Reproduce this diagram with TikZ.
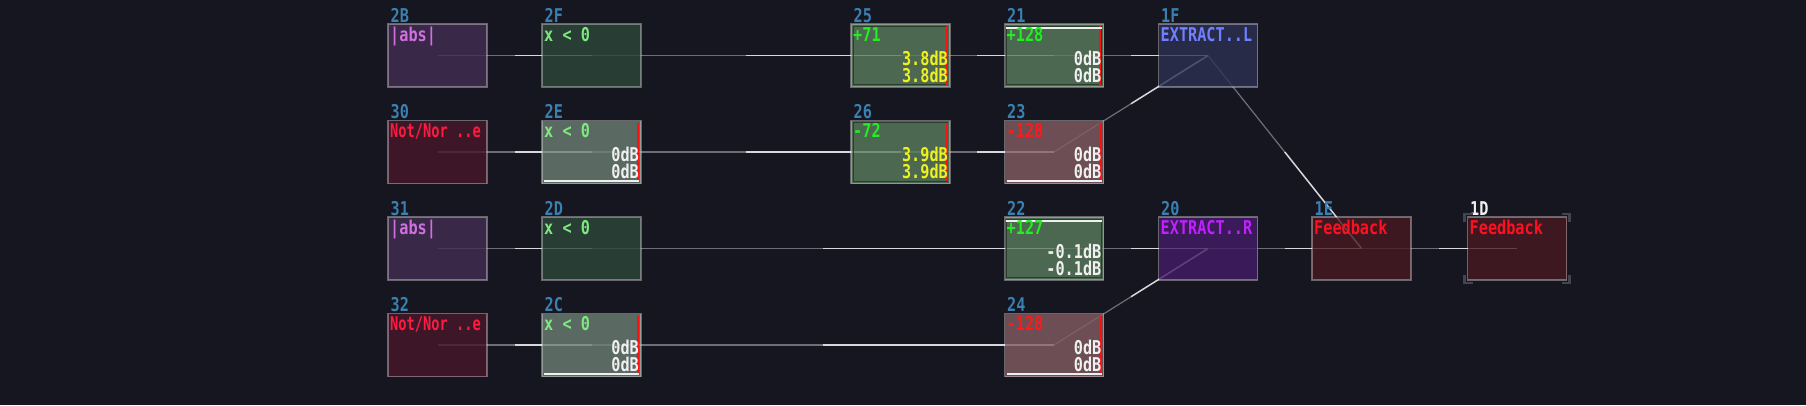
\documentclass[tikz,border=0pt]{standalone}
\usepackage{fontspec}
\newfontfamily\pix[FakeStretch=0.8]{DejaVu Sans Mono Bold}
\newfontfamily\pixn[FakeStretch=0.72]{DejaVu Sans Mono Bold}
\usetikzlibrary{calc}
\pgfdeclarelayer{back}
\pgfdeclarelayer{wires}
\pgfsetlayers{back,wires,main}
\definecolor{bgc}{HTML}{161620}
\definecolor{absf}{HTML}{442D52}
\definecolor{abst}{HTML}{D070E0}
\definecolor{notf}{HTML}{47172B}
\definecolor{nott}{HTML}{FF1A40}
\definecolor{cmpf}{HTML}{2D4739}
\definecolor{cmpf2}{HTML}{6C8074}
\definecolor{cmpt}{HTML}{80E880}
\definecolor{ampf}{HTML}{5B7D5C}
\definecolor{ampr}{HTML}{825C61}
\definecolor{gtxt}{HTML}{22EE22}
\definecolor{rtxt}{HTML}{FF1A1A}
\definecolor{ytxt}{HTML}{F0F020}
\definecolor{wtxt}{HTML}{F0F0F0}
\definecolor{exlf}{HTML}{2D3152}
\definecolor{exlt}{HTML}{7080FF}
\definecolor{exrf}{HTML}{441B66}
\definecolor{exrt}{HTML}{C020FF}
\definecolor{fbf}{HTML}{471920}
\definecolor{fbt}{HTML}{FF1020}
\definecolor{idc}{HTML}{3A80B0}
\definecolor{dimw}{HTML}{6E6E76}
\definecolor{brw}{HTML}{D8D8DC}
\definecolor{barr}{HTML}{FF1010}
\definecolor{brk}{HTML}{44444E}
\definecolor{innc}{HTML}{2A3E2E}
\newcommand\pixfont{\pix\fontsize{19}{20}\selectfont}
\newcommand\pixnfont{\pixn\fontsize{19}{20}\selectfont}
\newcommand\idl[3][idc]{\node[idlab,text=#1] (#2id) at ([shift={(2.5pt,2pt)}]#2.north west) {#3};}
\newcommand\ttl[3]{\node[ttlst,text=#2] (#1tt) at ([shift={(2pt,-17pt)}]#1.north west) {#3};}
\newcommand\vals[3]{\node[valst,text=#2] (#1va) at ([shift={(-2pt,-41pt)}]#1.north east) {#3};
  \node[valst,text=#2] (#1vb) at ([shift={(-2pt,-58pt)}]#1.north east) {#3};}
\newcommand\rbar[1]{\fill[barr] ([shift={(-4.4pt,-2.4pt)}]#1.north east) rectangle ([shift={(-2.4pt,2.4pt)}]#1.south east);}
\newcommand\topw[1]{\draw[wl] ([shift={(1.7pt,-4pt)}]#1.north west) -- ([shift={(-2pt,-4pt)}]#1.north east);}
\newcommand\botw[1]{\draw[wl] ([shift={(2pt,2.3pt)}]#1.south west) -- ([shift={(-2pt,2.3pt)}]#1.south east);}
\newcommand\innerb[1]{\draw[innerst] ([shift={(2.2pt,-2.2pt)}]#1.north west) rectangle ([shift={(-2.2pt,2.2pt)}]#1.south east);}
\newcommand\linkab[2]{\draw[dimline] (#1.center) -- ($(#1.center)!0.5!(#2.center)$);
  \draw[brline] ($(#1.center)!0.5!(#2.center)$) -- (#2.center);}
\begin{document}
\begin{tikzpicture}[x=1pt,y=-1pt,
  mod/.style={draw=white, draw opacity=0.35, line width=1.5pt, minimum width=99pt, minimum height=63pt,
    inner sep=0pt, outer sep=0pt, fill opacity=0.8},
  idlab/.style={anchor=base west, inner sep=0pt, font=\pixfont},
  ttlst/.style={anchor=base west, inner sep=0pt, font=\pixfont},
  valst/.style={anchor=base east, inner sep=0pt, font=\pixfont},
  wl/.style={draw=wtxt, line width=1.5pt},
  innerst/.style={draw=innc, line width=1.2pt},
  dimline/.style={draw=dimw, line width=1.2pt},
  brline/.style={draw=brw, line width=1.5pt},
  brkst/.style={draw=brk, line width=2.5pt}]
\useasboundingbox (0,0) rectangle (1806,405);
\begin{pgfonlayer}{back}
\fill[bgc] (0,0) rectangle (1806,405);
\end{pgfonlayer}
% column 1
\node[mod,fill=absf] (n2B) at (437.5,55.5) {};
\node[mod,fill=notf] (n30) at (437.5,152) {};
\node[mod,fill=absf] (n31) at (437.5,248.5) {};
\node[mod,fill=notf] (n32) at (437.5,345) {};
% column 2
\node[mod,fill=cmpf] (n2F) at (591.5,55.5) {};
\node[mod,fill=cmpf2] (n2E) at (591.5,152) {};
\node[mod,fill=cmpf] (n2D) at (591.5,248.5) {};
\node[mod,fill=cmpf2] (n2C) at (591.5,345) {};
% column 3
\node[mod,fill=ampf] (n25) at (900.5,55.5) {};
\node[mod,fill=ampf] (n26) at (900.5,152) {};
% column 4
\node[mod,fill=ampf] (n21) at (1054,55.5) {};
\node[mod,fill=ampr] (n23) at (1054,152) {};
\node[mod,fill=ampf] (n22) at (1054,248.5) {};
\node[mod,fill=ampr] (n24) at (1054,345) {};
% column 5-7
\node[mod,fill=exlf] (n1F) at (1208,55.5) {};
\node[mod,fill=exrf] (n20) at (1208,248.5) {};
\node[mod,fill=fbf] (n1E) at (1361.5,248.5) {};
\node[mod,fill=fbf] (n1D) at (1517,248.5) {};
% decorations
\innerb{n25}\innerb{n26}\innerb{n21}\innerb{n22}
\rbar{n2E}\rbar{n2C}\rbar{n25}\rbar{n26}\rbar{n21}\rbar{n23}\rbar{n24}
\botw{n2E}\botw{n2C}\botw{n23}\botw{n24}
\topw{n21}\topw{n22}
% ids
\idl{n2B}{2B}\idl{n30}{30}\idl{n31}{31}\idl{n32}{32}
\idl{n2F}{2F}\idl{n2E}{2E}\idl{n2D}{2D}\idl{n2C}{2C}
\idl{n25}{25}\idl{n26}{26}
\idl{n21}{21}\idl{n23}{23}\idl{n22}{22}\idl{n24}{24}
\idl{n1F}{1F}\idl{n20}{20}\idl{n1E}{1E}\idl[wtxt]{n1D}{1D}
% titles
\ttl{n2B}{abst}{|abs|}
\node[ttlst,text=nott,font=\pixnfont] (n30tt) at ([shift={(2pt,-17pt)}]n30.north west) {Not/Nor ..e};
\ttl{n31}{abst}{|abs|}
\node[ttlst,text=nott,font=\pixnfont] (n32tt) at ([shift={(2pt,-17pt)}]n32.north west) {Not/Nor ..e};
\ttl{n2F}{cmpt}{x < 0}\ttl{n2E}{cmpt}{x < 0}\ttl{n2D}{cmpt}{x < 0}\ttl{n2C}{cmpt}{x < 0}
\ttl{n25}{gtxt}{+71}\ttl{n26}{gtxt}{-72}
\ttl{n21}{gtxt}{+128}\ttl{n23}{rtxt}{-128}\ttl{n22}{gtxt}{+127}\ttl{n24}{rtxt}{-128}
\ttl{n1F}{exlt}{EXTRACT..L}\ttl{n20}{exrt}{EXTRACT..R}
\ttl{n1E}{fbt}{Feedback}\ttl{n1D}{fbt}{Feedback}
% values
\vals{n2E}{wtxt}{0dB}\vals{n2C}{wtxt}{0dB}
\vals{n25}{ytxt}{3.8dB}\vals{n26}{ytxt}{3.9dB}
\vals{n21}{wtxt}{0dB}\vals{n23}{wtxt}{0dB}\vals{n22}{wtxt}{-0.1dB}\vals{n24}{wtxt}{0dB}
% selection brackets on 1D
\draw[brkst] ([shift={(-3pt,-5pt)}]n1D.north west) -- ++(0pt,8pt) -- ++(8pt,0pt);
\draw[brkst] ([shift={(3pt,-5pt)}]n1D.north east) -- ++(0pt,8pt) -- ++(-8pt,0pt);
\draw[brkst] ([shift={(-3pt,5pt)}]n1D.south west) -- ++(0pt,-8pt) -- ++(8pt,0pt);
\draw[brkst] ([shift={(3pt,5pt)}]n1D.south east) -- ++(0pt,-8pt) -- ++(-8pt,0pt);
% connectors
\begin{pgfonlayer}{wires}
\linkab{n2B}{n2F}\linkab{n2F}{n25}\linkab{n25}{n21}\linkab{n21}{n1F}
\linkab{n30}{n2E}\linkab{n2E}{n26}\linkab{n26}{n23}\linkab{n23}{n1F}
\linkab{n1F}{n1E}
\linkab{n31}{n2D}\linkab{n2D}{n22}\linkab{n22}{n20}
\linkab{n32}{n2C}\linkab{n2C}{n24}\linkab{n24}{n20}
\linkab{n20}{n1E}\linkab{n1E}{n1D}
\end{pgfonlayer}
\end{tikzpicture}
\end{document}
